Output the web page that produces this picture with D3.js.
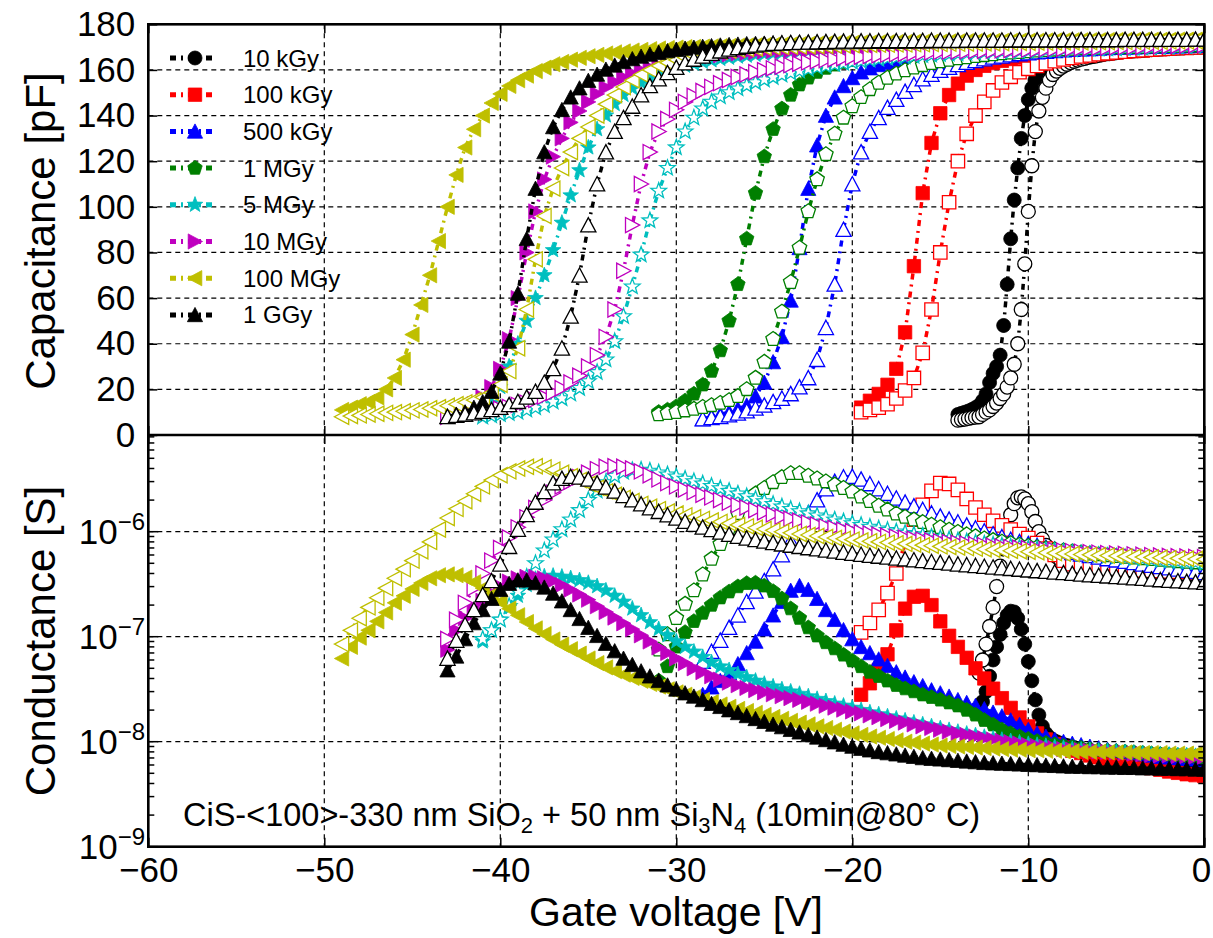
<!DOCTYPE html>
<html><head><meta charset="utf-8">
<script src="https://cdn.jsdelivr.net/npm/d3@7"></script>
<style>
body{margin:0;background:#fff}
svg{display:block}
text{font-family:"Liberation Sans",Arial,Helvetica,sans-serif;fill:#000}
</style>
</head><body>
<svg id="chart" width="1213" height="938"></svg>
<script>
// ---- doses, colours, markers ----
const doses = ["10 kGy","100 kGy","500 kGy","1 MGy","5 MGy","10 MGy","100 MGy","1 GGy"];
const colors = ["#000000","#ff0000","#0000ff","#007f00","#00bfbf","#bf00bf","#bfbf00","#000000"];
const shapes = ["circle","square","triUp","pentagon","star","triRight","triLeft","triUp"];
// sweep start voltage [V] (C-V and G-V) and step [V] for each dose
const capSweepStart  = [-14,-19.5,-28.5,-31,-41,-43,-49,-43];
const condSweepStart = [-12.8,-19.5,-28.5,-31,-41,-43,-49,-43];
const sweepStep  = [0.2,0.5,0.5,0.5,0.5,0.5,0.5,0.5];

// ---- capacitance [pF], solid markers ----
const capSolid = [
 [9,9.5,10,10.5,11.2,12,13,15,18,23,27,30,35,48,66,86,103,117,130,140,147,152,156,158.5,160.3,161.6,162.6,163.4,164.1,164.7,165.2,165.6,166,166.2,166.4,166.6,166.8,167,167.2,167.4,167.6,167.7,167.8,167.9,168,168.1,168.2,168.3,168.4,168.5,168.6,168.7,168.8,168.9,169,169.1,169.2,169.3,169.4,169.5,169.6,169.7,169.8,169.9,170,170,170.1,170.1,170.2,170.2,170.3],
 [12,15,18,22,29,45,74,106,128,141,149,154,157.5,160,161.8,163,164,164.8,165.4,166,166.5,167,167.4,167.8,168.1,168.4,168.7,169,169.2,169.4,169.6,169.8,170,170.1,170.2,170.3,170.4,170.5,170.6,170.7],
 [7,8,9,10,11.5,13,17,23,32,43,59,82,108,127,140,148,153,156.5,159,160.8,162.2,163.3,164.2,165,165.6,166.2,166.7,167.1,167.5,167.9,168.2,168.5,168.7,168.9,169.1,169.3,169.4,169.5,169.6,169.7,169.8,169.9,170,170.1,170.2,170.3,170.4,170.5,170.5,170.6,170.6,170.7,170.7,170.8,170.8,170.9,170.9,171],
 [10,11,12.5,15,18,22,28,37,50,66,86,106,122,134,143,149,153.5,156.5,159,160.8,162.2,163.3,164.2,165,165.6,166.2,166.7,167.1,167.5,167.8,168,168.2,168.4,168.6,168.8,168.9,169,169.1,169.2,169.3,169.4,169.5,169.6,169.7,169.8,169.9,170,170,170.1,170.1,170.2,170.2,170.3,170.3,170.4,170.4,170.5,170.5,170.5,170.6,170.6,170.6,170.7],
 [10,14,21,30,40,50,60,70,81,93,105,116,126,134,140,145,149,152,154.5,156.5,158.2,159.6,160.8,161.8,162.7,163.5,164.2,164.8,165.3,165.8,166.2,166.6,167,167.3,167.6,167.9,168.1,168.3,168.5,168.7,168.9,169,169.1,169.1,169.2,169.2,169.3,169.3,169.4,169.4,169.5,169.5,169.6,169.6,169.7,169.7,169.8,169.8,169.9,169.9,170,170,170,170.1,170.1,170.1,170.2,170.2,170.2,170.3,170.3,170.3,170.4,170.4,170.4,170.5,170.5,170.5,170.5,170.6,170.6,170.6,170.6],
 [9,10,11.5,13.5,16.5,21,29,42,60,80,98,112,122,130,137,142,146,149.5,152.3,154.7,156.7,158.4,159.8,161,162,162.9,163.7,164.4,165,165.5,166,166.4,166.8,167.2,167.5,167.8,168.1,168.3,168.4,168.5,168.6,168.7,168.8,168.9,169,169.1,169.2,169.3,169.4,169.5,169.6,169.7,169.8,169.9,170,170,170,170.1,170.1,170.1,170.2,170.2,170.2,170.3,170.3,170.3,170.4,170.4,170.4,170.5,170.5,170.5,170.5,170.6,170.6,170.6,170.6,170.7,170.7,170.7,170.7,170.8,170.8,170.8,170.8,170.9,170.9],
 [11,12,13.5,14.5,16.5,20,25,33,44,57,70,85,100,114,126,134,140,145.5,149.5,153,155.5,157.5,159.5,161,162.5,163.5,164.5,165.3,166,166.6,167.2,167.7,168.1,168.5,168.8,169.1,169.4,169.6,169.8,170,170.1,170.2,170.3,170.4,170.5,170.6,170.7,170.8,170.9,171,171.1,171.2,171.3,171.4,171.5,171.6,171.7,171.8,171.9,172,172,172.1,172.1,172.2,172.2,172.3,172.3,172.4,172.4,172.5,172.5,172.6,172.6,172.6,172.7,172.7,172.7,172.8,172.8,172.8,172.9,172.9,172.9,173,173,173,173,173.1,173.1,173.1,173.1,173.2,173.2,173.2,173.2,173.3,173.3,173.3,173.3],
 [8,9,10,12,14.5,19,27,41,62,86,108,124,135,142.5,148,152,155.3,158,160.2,162,163.5,164.8,165.9,166.8,167.6,168.3,168.9,169.4,169.8,170.2,170.5,170.8,171,171.2,171.4,171.5,171.6,171.7,171.8,171.9,172,172,172.1,172.1,172.2,172.2,172.3,172.3,172.4,172.4,172.5,172.5,172.5,172.6,172.6,172.6,172.7,172.7,172.7,172.8,172.8,172.8,172.8,172.9,172.9,172.9,172.9,173,173,173,173,173,173.1,173.1,173.1,173.1,173.1,173.2,173.2,173.2,173.2,173.2,173.3,173.3,173.3,173.3,173.3]
];

// ---- capacitance [pF], hollow markers (after 10 min @ 80 °C) ----
const capHollow = [
 [6.5,6.8,7,7.3,7.6,7.8,8,9,10,11,12.5,14,16,18,21,25,31,40,55,75,98,118,133,142,148,152,155.5,158,159.5,160.7,161.7,162.5,163.2,163.8,164.3,164.7,165.1,165.5,165.8,166.1,166.4,166.7,167,167.2,167.4,167.6,167.8,168,168.2,168.3,168.4,168.5,168.6,168.7,168.8,168.9,169,169.1,169.2,169.3,169.4,169.5,169.6,169.7,169.8,169.9,170,170,170.1,170.1,170.2],
 [10,11,12,13.5,16,19.5,25,36,55,80,102,120,132,140,146,151,154.5,157,159,160.5,161.8,162.9,163.8,164.6,165.3,165.9,166.4,166.9,167.3,167.7,168,168.3,168.6,168.9,169.1,169.3,169.5,169.7,169.9,170],
 [7,7.5,8,8.7,9.5,10.5,11.7,13,14.5,16,18,21,25,33,47,66,90,110,124,133,139,143.5,147,150.5,153.5,156,158,159.7,161,162.2,163.2,164,164.8,165.5,166,166.5,167,167.4,167.8,168.1,168.4,168.7,168.9,169.1,169.3,169.5,169.7,169.8,169.9,170,170.1,170.2,170.3,170.4,170.5,170.6,170.7,170.8],
 [9,9.5,10,10.7,11.4,12.2,13,14,15.2,17,20,25,32,42,54,67,82,98,112,123,132,139,144,148,151.5,154.3,156.5,158.3,159.8,161,162,162.9,163.7,164.4,165,165.5,166,166.4,166.8,167.2,167.5,167.8,168.1,168.4,168.6,168.8,169,169.2,169.4,169.5,169.6,169.7,169.8,169.9,170,170.1,170.2,170.3,170.4,170.5,170.6,170.7,170.8],
 [8,8.5,9,9.5,10,11,12,13,14.5,16,18,20.5,23.5,27.5,33,41,52,65,79,94,107,117,126,133,139,143,146,148.3,150.2,151.8,153.2,154.5,155.7,156.8,157.8,158.7,159.6,160.4,161.1,161.8,162.4,163,163.5,164,164.4,164.8,165.2,165.5,165.8,166.1,166.4,166.6,166.8,167,167.2,167.4,167.6,167.8,168,168.1,168.2,168.3,168.4,168.5,168.6,168.7,168.8,168.9,169,169.1,169.2,169.3,169.4,169.5,169.6,169.7,169.8,169.9,170,170.1,170.2,170.3,170.4],
 [8,8.5,9,9.5,10,10.7,11.5,12.3,13.2,14.2,15.4,16.8,18.5,20.5,23,26,30,35,43,55,72,92,110,124,133,138.5,142.5,146,148.7,150.8,152.6,154.2,155.6,156.9,158,159,159.9,160.7,161.4,162.1,162.7,163.3,163.8,164.3,164.7,165.1,165.5,165.8,166.1,166.4,166.7,166.9,167.1,167.3,167.5,167.7,167.9,168,168.1,168.2,168.3,168.4,168.5,168.6,168.7,168.8,168.9,169,169.1,169.2,169.3,169.4,169.5,169.6,169.7,169.8,169.9,170,170.1,170.2,170.3,170.4,170.5,170.6,170.7,170.8,170.9],
 [8,8.3,8.6,9,9.3,9.7,10,10.4,10.8,11.2,11.7,12.2,12.8,13.5,14.3,15.3,16.5,18.5,22,28,38,55,77,96,108,117,124,130,135,140,145,149,152.5,155.5,158,160,161.8,163.2,164.4,165.4,166.2,166.9,167.5,168,168.5,168.9,169.2,169.5,169.8,170,170.1,170.2,170.3,170.4,170.5,170.6,170.7,170.8,170.9,171,171,171.1,171.1,171.2,171.2,171.3,171.3,171.4,171.4,171.5,171.5,171.6,171.6,171.7,171.7,171.8,171.8,171.9,171.9,172,172,172,172.1,172.1,172.1,172.2,172.2,172.2,172.3,172.3,172.3,172.4,172.4,172.4,172.5,172.5,172.5,172.6,172.6],
 [8,8.5,9,9.6,10.3,11,12,13.2,14.6,16.5,19,23,29,38,52,70,92,110,124,133,139,144,149,153,156,158.7,161,163,164.6,166,167.2,168.2,169,169.7,170.3,170.8,171.2,171.5,171.7,171.9,172,172.1,172.2,172.3,172.4,172.5,172.5,172.6,172.6,172.7,172.7,172.7,172.8,172.8,172.8,172.9,172.9,172.9,172.9,173,173,173,173,173,173.1,173.1,173.1,173.1,173.1,173.1,173.2,173.2,173.2,173.2,173.2,173.2,173.2,173.3,173.3,173.3,173.3,173.3,173.3,173.3,173.3,173.4,173.4]
];

// ---- conductance [nS], solid markers ----
const condSolid = [
 [20,24,30,42,60,80,105,135,160,175,172,150,118,85,58,38,25,18,14,12,11,10.4,10,9.7,9.4,9.2,9,8.8,8.6,8.4,8.2,8,7.8,7.7,7.6,7.5,7.4,7.3,7.2,7.1,7,6.9,6.8,6.7,6.6,6.5,6.4,6.3,6.2,6.15,6.1,6.05,6,5.95,5.9,5.85,5.8,5.75,5.7,5.65,5.6,5.55,5.5,5.45,5.4],
 [28,36,48,68,115,185,240,245,200,140,102,80,63,50,40,32,26,21,17,14,12,10.5,9.5,8.8,8.2,7.8,7.4,7.1,6.8,6.6,6.2,6,5.8,5.6,5.4,5.2,5.05,4.9,4.8,4.7],
 [28,33,38,45,55,70,90,118,160,215,275,305,280,230,180,145,116,95,80,70,61,53,46,41,37,34,31,29,27,25,23.5,22,20.5,19,17.5,16,14.5,13,12,11.2,10.5,10,9.6,9.3,9,8.7,8.4,8.2,8,7.8,7.6,7.4,7.2,7.1,7,6.9,6.8,6.7],
 [38,52,80,110,140,168,200,235,268,300,322,325,305,270,230,185,150,122,102,88,77,67,59,52,46,42,38,34.5,32,30,28,26.5,25,23.5,22,20,18,16,14.5,13,12,11.2,10.6,10.1,9.7,9.4,9.1,8.9,8.7,8.5,8.3,8.2,8.1,8,7.9,7.8,7.7,7.6,7.5,7.4,7.3,7.2,7.1],
 [90,115,145,190,245,310,355,375,380,372,360,345,325,302,275,245,215,185,160,137,118,103,90,80,72,64,57,52,48,44,41,38,35.5,33.5,31.5,30,28.5,27,25.5,24.3,23,22,21,20,19,18.2,17.4,16.6,15.9,15.2,14.6,14,13.4,12.9,12.4,11.9,11.5,11.1,10.7,10.4,10.1,9.8,9.5,9.3,9.1,8.9,8.7,8.5,8.4,8.3,8.2,8.1,8,7.9,7.8,7.7,7.6,7.5,7.5,7.4,7.4,7.3,7.3],
 [75,115,150,185,220,260,300,335,360,372,372,360,340,310,280,252,225,195,172,152,134,118,103,90,79,70,62,56,50,46,42,39,36.5,34.5,32.5,31,29.5,28.3,27.1,26,25,24,23,22,21.1,20.2,19.4,18.6,17.8,17.1,16.4,15.8,15.2,14.6,14,13.5,13,12.5,12,11.6,11.2,10.8,10.5,10.2,9.9,9.6,9.3,9.1,8.9,8.7,8.5,8.4,8.3,8.2,8.1,8,7.9,7.8,7.7,7.6,7.5,7.4,7.4,7.3,7.3,7.2,7.2],
 [62,80,98,115,140,170,210,245,285,325,360,385,392,385,365,330,290,250,215,185,160,138,120,106,94,84,76,69,62,56,51,47,43.5,40.5,38,35.5,33.5,31.5,29.5,28,26.5,25,23.8,22.6,21.5,20.5,19.6,18.8,18,17.2,16.5,15.8,15.2,14.6,14,13.5,13,12.5,12,11.6,11.2,10.9,10.6,10.3,10,9.8,9.6,9.4,9.2,9.1,9,8.9,8.8,8.7,8.6,8.5,8.4,8.4,8.3,8.3,8.2,8.2,8.1,8.1,8,8,8,7.9,7.9,7.9,7.8,7.8,7.8,7.8,7.7,7.7,7.7,7.7,7.7],
 [48,65,95,135,180,230,280,320,345,345,325,295,258,218,180,148,122,102,86,73,62,54,47,42,38,34.5,31.5,29,27,25,23,21.5,20,18.8,17.6,16.5,15.5,14.6,13.8,13,12.3,11.6,11,10.4,9.9,9.4,9,8.6,8.3,8,7.8,7.6,7.4,7.2,7,6.9,6.8,6.7,6.6,6.5,6.4,6.3,6.25,6.2,6.15,6.1,6.05,6,5.95,5.9,5.85,5.8,5.8,5.75,5.75,5.7,5.7,5.65,5.65,5.6,5.6,5.55,5.55,5.5,5.5,5.45,5.45]
];

// ---- conductance [nS], hollow markers (after 10 min @ 80 °C) ----
const condHollow = [
 [45,60,85,125,190,300,470,700,1050,1450,1850,2100,2150,2050,1850,1550,1250,1000,850,740,670,620,580,550,530,515,505,495,487,480,473,467,461,456,451,446,442,438,434,430,426,423,420,417,414,411,408,405,402,400,398,396,394,392,390,388,386,384,382,380,378,376,374,372,370],
 [110,135,180,260,400,800,1300,1800,2450,2900,2850,2500,2050,1700,1450,1270,1150,1050,950,870,780,690,600,530,490,465,450,445,440,437,434,431,428,425,422,419,416,413,410,407],
 [58,72,92,122,160,215,270,340,440,600,820,1100,1500,2000,2550,3000,3300,3350,3150,2850,2550,2300,2080,1900,1750,1620,1500,1400,1310,1230,1150,1080,1010,950,890,840,800,765,735,705,680,655,630,610,590,570,550,535,520,505,490,475,462,450,438,427,416,405],
 [75,105,150,205,275,390,550,760,1080,1500,1950,2300,2600,2950,3300,3600,3600,3400,3200,3000,2800,2600,2400,2150,1950,1760,1620,1480,1380,1300,1230,1160,1100,1040,990,940,900,860,830,800,775,750,730,710,690,675,660,645,630,618,606,595,584,574,564,555,546,538,530,522,515,508,500],
 [95,115,145,195,270,370,500,660,840,1050,1300,1600,2000,2450,2950,3400,3700,3850,3880,3800,3650,3500,3350,3180,3020,2870,2720,2580,2440,2300,2170,2050,1940,1830,1730,1640,1560,1490,1420,1360,1300,1250,1200,1155,1110,1070,1035,1000,970,940,915,890,865,845,825,805,785,768,752,736,720,706,692,678,665,652,640,628,617,606,596,586,576,567,558,550,542,534,527,520,513,507,500],
 [95,145,210,290,400,530,700,880,1100,1370,1680,2000,2350,2700,3000,3300,3650,3950,4150,4200,4150,4000,3750,3450,3150,2900,2700,2520,2380,2250,2120,2000,1890,1790,1700,1610,1530,1460,1390,1330,1270,1220,1170,1125,1085,1045,1010,985,960,937,915,895,876,858,841,825,810,796,783,770,758,746,735,724,714,704,695,686,677,669,661,653,646,639,632,626,620,614,608,603,598,593,588,584,580,576,572],
 [85,115,150,190,235,290,360,440,530,650,800,1050,1350,1650,1950,2300,2700,3100,3450,3750,4000,4150,4200,4100,3900,3650,3380,3100,2850,2620,2420,2250,2100,1960,1840,1730,1640,1560,1490,1430,1375,1325,1280,1240,1200,1160,1125,1090,1060,1030,1000,975,950,930,910,890,872,855,840,826,812,800,788,776,765,754,744,734,724,715,706,697,689,681,673,665,658,651,644,637,631,625,619,613,607,602,597,592,587,582,577,573,569,565,561,557,553,549,545],
 [62,92,130,180,250,340,490,720,1050,1450,1900,2400,2900,3200,3350,3300,3150,2900,2650,2420,2200,2000,1830,1680,1550,1440,1340,1250,1170,1100,1040,985,940,900,865,835,808,783,760,740,720,700,682,665,649,634,620,606,593,581,569,558,547,537,527,517,508,499,490,482,474,466,458,451,444,437,430,423,417,411,405,399,393,387,382,377,372,367,362,357,352,347,343,339,335,331,327]
];

// ---- axis ticks ----
const xTicks = [-60,-50,-40,-30,-20,-10,0];
const capTicks = [0,20,40,60,80,100,120,140,160,180];
const condDecades = [-9,-8,-7,-6];

// ---- layout ----
const X0 = 148.3, X1 = 1204.3, YT = 24.3, YM = 435, YB = 846.7;
const DECADE = 105;
const FONT = '"Liberation Sans",Arial,Helvetica,sans-serif';

const svg = d3.select("#chart");
const x = d3.scaleLinear().domain([-60, 0]).range([X0, X1]);
const yCap = d3.scaleLinear().domain([0, 180]).range([YM, YT]);
const yCond = d3.scaleLog().domain([1e-9, Math.pow(10, -9 + (YB - YM) / DECADE)]).range([YB, YM]);

const defs = svg.append("defs");
defs.append("clipPath").attr("id", "clipTop").append("rect")
  .attr("x", X0).attr("y", YT).attr("width", X1 - X0).attr("height", YM - YT);
defs.append("clipPath").attr("id", "clipBot").append("rect")
  .attr("x", X0).attr("y", YM).attr("width", X1 - X0).attr("height", YB - YM);

// ---- marker geometry ----
function polygon(n, r, rot) {
  const pts = d3.range(n).map(k => {
    const a = rot + k * 2 * Math.PI / n;
    return [r * Math.sin(a), -r * Math.cos(a)];
  });
  return "M" + pts.map(p => p[0].toFixed(2) + "," + p[1].toFixed(2)).join("L") + "Z";
}
function starPath(ro, ri) {
  const pts = d3.range(10).map(k => {
    const r = k % 2 ? ri : ro, a = k * Math.PI / 5;
    return [r * Math.sin(a), -r * Math.cos(a)];
  });
  return "M" + pts.map(p => p[0].toFixed(2) + "," + p[1].toFixed(2)).join("L") + "Z";
}
const markerD = {
  circle: "M7,0A7,7 0 1,1 -7,0A7,7 0 1,1 7,0Z",
  square: "M-6.7,-6.7H6.7V6.7H-6.7Z",
  triUp: "M0,-7.5L7.6,6.8L-7.6,6.8Z",
  triRight: "M7.5,0L-6.8,-7.6L-6.8,7.6Z",
  triLeft: "M-7.5,0L6.8,-7.6L6.8,7.6Z",
  pentagon: polygon(5, 7.6, 0),
  star: starPath(8.2, 3.4)
};

const LINE_DASH = "6,5,2,5";
const LINE_W = 3.5;
const GRID_DASH = "5,4";

function seriesPoints(vals, start, d, unit) {
  return vals.map((v, i) => ({ v: start + i * sweepStep[d], y: v * unit }));
}

function drawSeries(g, pts, d, solid, scaleY) {
  const col = colors[d];
  const line = d3.line().x(p => x(p.v)).y(p => scaleY(p.y));
  g.append("path").attr("d", line(pts))
    .attr("fill", "none").attr("stroke", col)
    .attr("stroke-width", LINE_W).attr("stroke-dasharray", LINE_DASH);
  g.selectAll(null).data(pts).enter().append("path")
    .attr("d", markerD[shapes[d]])
    .attr("transform", p => `translate(${x(p.v).toFixed(2)},${scaleY(p.y).toFixed(2)})`)
    .attr("fill", solid ? col : "#ffffff")
    .attr("stroke", col)
    .attr("stroke-width", solid ? 0.8 : 1.3);
}

// ---- grid ----
const grid = svg.append("g").attr("stroke", "#000").attr("stroke-width", 1.2)
  .attr("stroke-dasharray", GRID_DASH).attr("fill", "none");
capTicks.filter(t => t > 0 && t < 180).forEach(t => {
  grid.append("line").attr("x1", X0).attr("x2", X1).attr("y1", yCap(t)).attr("y2", yCap(t));
});
condDecades.filter(e => e > -9).forEach(e => {
  const yy = yCond(Math.pow(10, e));
  grid.append("line").attr("x1", X0).attr("x2", X1).attr("y1", yy).attr("y2", yy);
});
xTicks.filter(t => t > -60 && t < 0).forEach(t => {
  grid.append("line").attr("x1", x(t)).attr("x2", x(t)).attr("y1", YT).attr("y2", YB);
});

// ---- data ----
const gTop = svg.append("g").attr("clip-path", "url(#clipTop)");
const gBot = svg.append("g").attr("clip-path", "url(#clipBot)");
for (let d = 0; d < doses.length; d++) {
  drawSeries(gTop, seriesPoints(capSolid[d], capSweepStart[d], d, 1), d, true, yCap);
  drawSeries(gTop, seriesPoints(capHollow[d], capSweepStart[d], d, 1), d, false, yCap);
  drawSeries(gBot, seriesPoints(condSolid[d], condSweepStart[d], d, 1e-9), d, true, yCond);
  drawSeries(gBot, seriesPoints(condHollow[d], condSweepStart[d], d, 1e-9), d, false, yCond);
}

// ---- axes ----
function styleAxis(g) {
  g.select(".domain").remove();
  g.selectAll(".tick line").attr("stroke", "#000").attr("stroke-width", 1.5);
  g.selectAll("text").attr("font-family", FONT).attr("font-size", 35).attr("fill", "#000");
}
svg.append("g").attr("transform", `translate(${X0},0)`)
  .call(d3.axisLeft(yCap).tickValues(capTicks).tickSizeInner(-9).tickSizeOuter(0).tickPadding(13))
  .call(styleAxis);
svg.append("g").attr("transform", `translate(${X1},0)`)
  .call(d3.axisRight(yCap).tickValues(capTicks).tickSizeInner(-9).tickSizeOuter(0).tickFormat(""))
  .call(styleAxis);
svg.append("g").attr("transform", `translate(0,${YT})`)
  .call(d3.axisTop(x).tickValues(xTicks).tickSizeInner(-9).tickSizeOuter(0).tickFormat(""))
  .call(styleAxis);
svg.append("g").attr("transform", `translate(0,${YM})`)
  .call(d3.axisBottom(x).tickValues(xTicks).tickSizeInner(-9).tickSizeOuter(0).tickFormat(""))
  .call(styleAxis);
svg.append("g").attr("transform", `translate(0,${YM})`)
  .call(d3.axisTop(x).tickValues(xTicks).tickSizeInner(-9).tickSizeOuter(0).tickFormat(""))
  .call(styleAxis);
const xAxisBottom = svg.append("g").attr("transform", `translate(0,${YB})`)
  .call(d3.axisBottom(x).tickValues(xTicks).tickSizeInner(-9).tickSizeOuter(0).tickPadding(10.5))
  .call(styleAxis);
// keep the last label inside the canvas
xAxisBottom.selectAll(".tick text").filter(d => d === 0).attr("text-anchor", "end").attr("dx", 6.5);

// log ticks of the conductance panel (both sides, pointing inward)
const logTicks = svg.append("g").attr("stroke", "#000").attr("stroke-width", 1.5);
for (let e = -9; e <= -6; e++) {
  for (let m = 1; m <= 9; m++) {
    const val = m * Math.pow(10, e);
    if (val > yCond.domain()[1]) continue;
    const yy = yCond(val), len = m === 1 ? 10 : 6;
    logTicks.append("line").attr("x1", X0).attr("x2", X0 + len).attr("y1", yy).attr("y2", yy);
    logTicks.append("line").attr("x1", X1).attr("x2", X1 - len).attr("y1", yy).attr("y2", yy);
  }
}
condDecades.forEach(e => {
  const t = svg.append("text").attr("x", 145).attr("y", yCond(Math.pow(10, e)) + 12)
    .attr("text-anchor", "end").attr("font-family", FONT);
  t.append("tspan").attr("font-size", 35).text("10");
  t.append("tspan").attr("font-size", 24).attr("dy", -14).text("\u2212" + Math.abs(e));
});

// frames
svg.append("rect").attr("x", X0).attr("y", YT).attr("width", X1 - X0).attr("height", YB - YT)
  .attr("fill", "none").attr("stroke", "#000").attr("stroke-width", 2.6);
svg.append("line").attr("x1", X0).attr("x2", X1).attr("y1", YM).attr("y2", YM)
  .attr("stroke", "#000").attr("stroke-width", 2.6);

// ---- axis titles ----
svg.append("text").attr("transform", "translate(55,231) rotate(-90)")
  .attr("text-anchor", "middle").attr("font-size", 42).attr("font-family", FONT)
  .text("Capacitance [pF]");
svg.append("text").attr("transform", "translate(55,641) rotate(-90)")
  .attr("text-anchor", "middle").attr("font-size", 42).attr("font-family", FONT)
  .text("Conductance [S]");
svg.append("text").attr("x", 676).attr("y", 926)
  .attr("text-anchor", "middle").attr("font-size", 41).attr("font-family", FONT)
  .text("Gate voltage [V]");

// ---- sample description ----
const note = svg.append("text").attr("x", 183).attr("y", 826)
  .attr("font-size", 32.5).attr("font-family", FONT);
note.append("tspan").text("CiS-<100>-330 nm SiO");
note.append("tspan").attr("font-size", 22).attr("dy", 7).text("2");
note.append("tspan").attr("dy", -7).text(" + 50 nm Si");
note.append("tspan").attr("font-size", 22).attr("dy", 7).text("3");
note.append("tspan").attr("dy", -7).text("N");
note.append("tspan").attr("font-size", 22).attr("dy", 7).text("4");
note.append("tspan").attr("dy", -7).text(" (10min@80\u00b0 C)");

// ---- legend ----
const legend = svg.append("g");
doses.forEach((name, d) => {
  const yy = 58 + d * 36.7;
  legend.append("line").attr("x1", 170).attr("x2", 212).attr("y1", yy).attr("y2", yy)
    .attr("stroke", colors[d]).attr("stroke-width", 5).attr("stroke-dasharray", LINE_DASH);
  legend.append("path").attr("d", markerD[shapes[d]])
    .attr("transform", `translate(195,${yy})`)
    .attr("fill", colors[d]).attr("stroke", colors[d]).attr("stroke-width", 0.8);
  legend.append("text").attr("x", 243).attr("y", yy + 8.5)
    .attr("font-size", 24).attr("font-family", FONT).text(name);
});
</script>
</body></html>
